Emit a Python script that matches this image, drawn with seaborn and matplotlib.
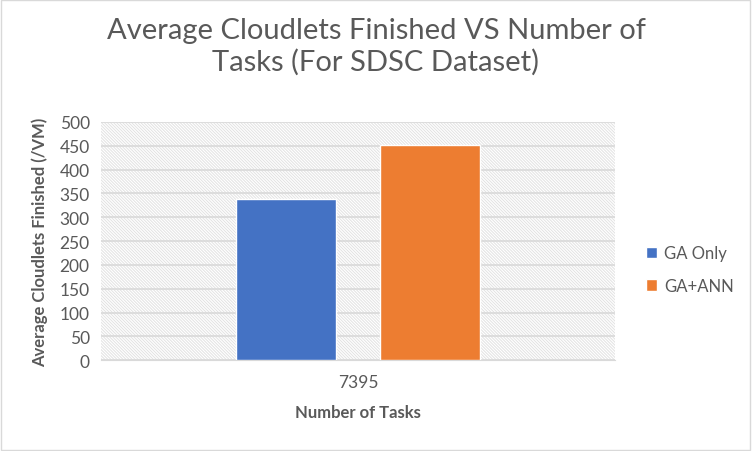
import matplotlib
matplotlib.use("Agg")
import matplotlib.pyplot as plt
import pandas as pd
import seaborn as sns

tasks = ["7395"]
methods = ["GA Only", "GA+ANN"]
ga_only = [338]
ga_ann = [452]
colors = ["#4472C4", "#ED7D31"]

df = pd.DataFrame({
    "tasks": tasks * 2,
    "method": [methods[0]] * len(tasks) + [methods[1]] * len(tasks),
    "value": ga_only + ga_ann,
})

sns.set_style("white")
plt.rcParams['font.family'] = ['Lato', 'DejaVu Sans']
plt.rcParams['hatch.color'] = '#e2e2e2'
plt.rcParams['hatch.linewidth'] = 0.7

fig = plt.figure(figsize=(7.52, 4.52), dpi=100)
ax = fig.add_axes([0.134, 0.201, 0.684, 0.527])

ax.patch.set_facecolor('white')
ax.patch.set_hatch('\\' * 11)
ax.patch.set_edgecolor('#e2e2e2')

sns.barplot(data=df, x="tasks", y="value", hue="method", palette=colors,
            width=0.56, gap=0.3, ax=ax, saturation=1, errorbar=None, zorder=3)

ax.set_ylim(0, 500)
ax.set_xlim(-0.5, 0.5)
ax.set_yticks(range(0, 501, 50))
ax.yaxis.grid(True, color='#d9d9d9', linewidth=1.2, zorder=1)
ax.set_axisbelow(True)
for s in ['top', 'right', 'left']:
    ax.spines[s].set_visible(False)
ax.spines['bottom'].set_color('#d9d9d9')
ax.tick_params(axis='both', length=0, labelsize=12.5, labelcolor='#595959', pad=8)
ax.tick_params(axis='x', pad=10)

ax.set_xlabel("Number of Tasks", fontsize=12, fontweight='bold', color='#595959', labelpad=10)
ax.set_ylabel("Average Cloudlets Finished (/VM)", fontsize=12, fontweight='bold', color='#595959', labelpad=8)

fig.suptitle("Average Cloudlets Finished VS Number of\nTasks (For SDSC Dataset)", x=0.5, y=0.96,
             fontsize=21, color='#595959', linespacing=1.2)

leg = ax.legend(loc='center left', bbox_to_anchor=(1.03, 0.38), frameon=False,
                fontsize=12, handlelength=0.7, handleheight=0.7, handletextpad=0.4,
                labelspacing=1.0, labelcolor='#595959')

fig.patches.append(plt.Rectangle((0.001, 0.002), 0.997, 0.996, transform=fig.transFigure,
                                 fill=False, edgecolor='#d9d9d9', linewidth=1))

fig.savefig("out.png", dpi=100)
